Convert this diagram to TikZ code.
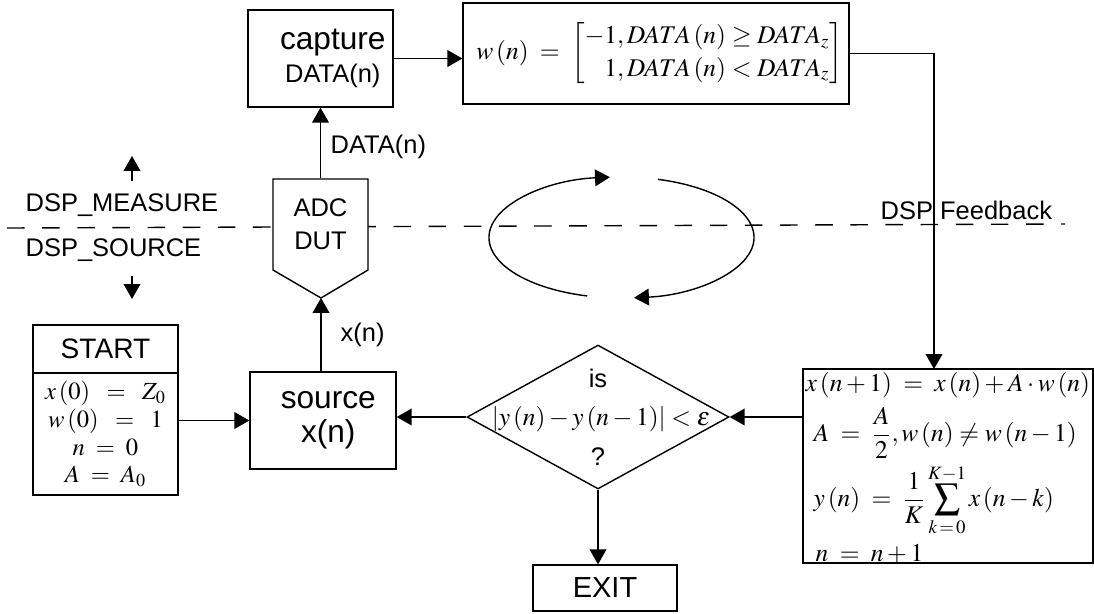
\documentclass[tikz,border=0pt]{standalone}
\usepackage{amsmath}
\usepackage{mathptmx}
\usepackage[no-math]{fontspec}
\setmainfont{Liberation Sans}
\usetikzlibrary{arrows.meta,shapes.geometric,calc}

\begin{document}
\begin{tikzpicture}[x=0.02cm,y=-0.02cm,
  line width=0.8pt,
  arr/.style={-{Triangle[length=8.5pt,width=9.5pt]}},
  box/.style={draw, rectangle, inner sep=0pt, fill=white},
  lbl/.style={font=\fontsize{14.5}{17}\selectfont, inner sep=0pt},
  big/.style={font=\fontsize{18}{19.5}\selectfont, align=center, inner sep=0pt},
  mth/.style={inner sep=0pt, font=\fontsize{14.5}{17}\selectfont},
]
\useasboundingbox (0,0) rectangle (1094,613);

% boundary between measure and source sides
\coordinate (dl) at (7,228);
\coordinate (dr) at (1065,224);
\draw[dash pattern=on 10pt off 10pt] (dl) -- (dr);

% side labels and their arrows
\node[lbl, anchor=west] (meas) at (25,205) {DSP\_MEASURE};
\node[lbl, anchor=west] (srcside) at (25,250) {DSP\_SOURCE};
\coordinate (upA) at (132,181);  \coordinate (upB) at (132,156);
\coordinate (dnA) at (132,276);  \coordinate (dnB) at (132,299);
\draw[arr] (upA) -- (upB);
\draw[arr] (dnA) -- (dnB);

% capture block
\node[box, big, minimum width=2.9cm, minimum height=1.94cm] (capture) at (320.5,58.5)
  {\hspace*{14pt}capture\\[-1pt]\hspace*{14pt}{\fontsize{14.5}{16}\selectfont DATA(n)}};

% decision rule for w(n)
\node[box, minimum width=7.72cm, minimum height=2.02cm] (wbox) at (656,53.5)
  {\fontsize{14.5}{16}\selectfont\renewcommand{\arraystretch}{1.15}%
   $\hspace*{4pt}w\,(n) \;=\; \left[\begin{array}{@{}r@{,\,}l@{}}
     -1 & DATA\,(n) \ge DATA_z\\
      1 & DATA\,(n) < DATA_z
   \end{array}\right]$};

% converter under test
\coordinate (adctip) at (321,298);
\filldraw[fill=white] (273,179) -- (368,179) -- (368,270) -- (adctip) -- (273,270) -- cycle;
\node[lbl, align=center, minimum width=1.9cm, minimum height=1.82cm] (adc) at (320.5,224.5)
  {ADC\\[2pt]DUT};

% start block
\node[box, minimum width=2.9cm, minimum height=0.96cm, font=\fontsize{16}{18}\selectfont] (startH) at (105.5,349) {START};
\node[box, minimum width=2.9cm, minimum height=2.44cm, align=center,
      font=\fontsize{14}{15.8}\selectfont] (startB) at (105.5,434)
  {$x\,(0) \;\;=\;\; Z_0$\\ $w\,(0) \;\;=\;\; 1$\\ $n \;=\; 0$\\ $A \;=\; A_0$};

% stimulus source
\node[box, big, minimum width=2.92cm, minimum height=1.94cm] (src) at (323,420.5)
  {\hspace*{6pt}source\\\hspace*{6pt}x(n)};

% convergence test
\node[draw, diamond, fill=white, inner sep=0pt, minimum width=5.24cm, minimum height=2.88cm] (dec) at (598,417) {};
\node[lbl] (decis) at (598,378) {is};
\node[mth] (decf) at (601,419) {$\left|y\,(n) - y\,(n-1)\right| < \varepsilon$};
\node[lbl] (decq) at (598,457) {?};

% exit block
\node[box, minimum width=2.88cm, minimum height=0.92cm, font=\fontsize{16.5}{18}\selectfont] (exit) at (605,588) {EXIT};

% update equations
\node[box, minimum width=5.8cm, minimum height=3.88cm] (upd) at (948,466) {};
\node[mth, anchor=west] (u1) at (805,385) {$x\,(n+1) \;=\; x\,(n) + A\cdot w\,(n)$};
\node[mth, anchor=west] (u2) at (813,433) {$A \;=\; \dfrac{A}{2},w\,(n) \ne w\,(n-1)$};
\node[mth, anchor=west] (u3) at (813,500) {$\displaystyle y\,(n) \;=\; \frac{1}{K}\sum_{k\,=\,0}^{K-1} x\,(n-k)$};
\node[mth, anchor=west] (u4) at (815,554) {$n \;=\; n+1$};

% signal flow
\draw[arr] (capture.east) -- (capture.east -| wbox.west);
\coordinate (fbin) at (934,369);
\draw[arr] (wbox.east) -| (fbin);
\node[lbl, anchor=west] (fb) at (880,210) {DSP Feedback};
\draw[arr] (upd.west |- dec.east) -- (dec.east);
\draw[arr] (dec.west) -- (dec.west -| src.east);
\draw[arr] (startB.east |- src.west) -- (src.west);
\draw[arr] (adctip |- src.north) -- (adctip);
\node[lbl, anchor=west] (xn) at (340,335) {x(n)};
\draw[arr] (adc.north) -- (capture.south);
\node[lbl, anchor=west] (datan) at (330,147) {DATA(n)};
\draw[arr] (dec.south) -- (dec.south |- exit.north);

% loop symbol
\coordinate (lc) at (621.5,237.5);
\draw[arr] ($(lc)+(105:132.5 and 60.5)$) arc[start angle=105, end angle=265, x radius=132.5, y radius=60.5];
\draw[arr] ($(lc)+(-74:132.5 and 60.5)$) arc[start angle=-74, end angle=84.6, x radius=132.5, y radius=60.5];
\end{tikzpicture}
\end{document}
